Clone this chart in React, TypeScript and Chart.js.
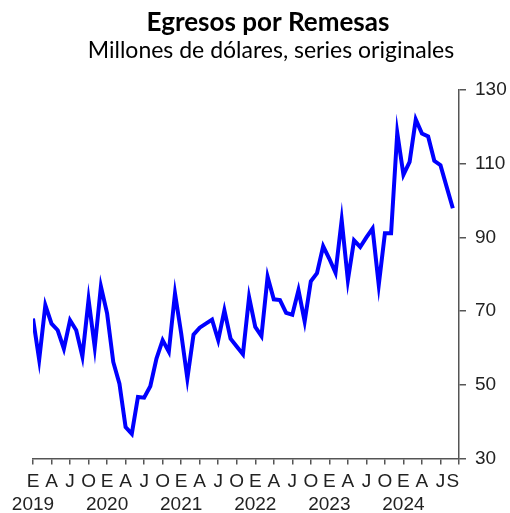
import React, { useEffect, useRef } from 'react';
import { Chart, registerables } from 'chart.js';

Chart.register(...registerables);

const TITLE = 'Egresos por Remesas';
const SUBTITLE = 'Millones de dólares, series originales';

// Monthly values, Jan 2019 .. Sep 2024 (millions of dollars)
const remesas = [
  68.0, 56.8, 71.6, 66.6, 64.8, 59.8, 67.5, 64.8, 57.7, 73.1, 60.2, 76.7,
  69.4, 56.2, 50.3, 38.5, 36.7, 46.7, 46.5, 49.6, 57.1, 62.1, 59.0, 74.8,
  64.0, 51.7, 63.6, 65.5, 66.6, 67.7, 62.1, 70.2, 62.5, 60.4, 58.3, 73.8,
  65.7, 63.2, 79.3, 73.2, 73.0, 69.5, 69.0, 75.7, 67.2, 78.1, 80.3, 87.6,
  84.2, 80.4, 94.7, 78.4, 89.2, 87.4, 90.0, 92.4, 77.1, 91.1, 91.1, 118.4,
  107.0, 110.5, 122.0, 118.2, 117.4, 110.8, 109.6, 103.7, 97.9,
];

// x tick positions (month index) and their labels
const xTickIdx = [0, 3, 6, 9, 12, 15, 18, 21, 24, 27, 30, 33, 36, 39, 42, 45, 48, 51, 54, 57, 60, 63, 66, 68, 69];
const xTickText = ['E', 'A', 'J', 'O', 'E', 'A', 'J', 'O', 'E', 'A', 'J', 'O', 'E', 'A', 'J', 'O', 'E', 'A', 'J', 'O', 'E', 'A', 'J', 'S', ''];
const yearIdx = [0, 12, 24, 36, 48, 60];
const yearText = ['2019', '2020', '2021', '2022', '2023', '2024'];
const noMarkIdx = [68];

const AXIS = '#555555';
const TICKFONT = { family: 'Liberation Sans, Arial, sans-serif', size: 19 };

const titlePlugin = {
  id: 'titles',
  afterDraw(chart: any) {
    const ctx = chart.ctx;
    ctx.save();
    ctx.fillStyle = '#000000';
    ctx.textAlign = 'center';
    ctx.textBaseline = 'alphabetic';
    ctx.font = 'bold 26px Lato, sans-serif';
    ctx.fillText(TITLE, 268, 31);
    ctx.font = '23px Lato, sans-serif';
    ctx.fillText(SUBTITLE, 271, 58);
    ctx.restore();
  },
};

export default function App() {
  const ref = useRef<HTMLCanvasElement | null>(null);

  useEffect(() => {
    if (!ref.current) return;
    const chart = new Chart(ref.current, {
      type: 'line',
      data: {
        datasets: [
          {
            data: remesas.map((v, i) => ({ x: i, y: v })),
            borderColor: '#0000FF',
            borderWidth: 4,
            pointRadius: 0,
            tension: 0,
            fill: false,
          },
        ],
      },
      options: {
        animation: false,
        responsive: false,
        maintainAspectRatio: false,
        layout: { padding: { left: 33, top: 90, right: 0, bottom: 0 } },
        plugins: {
          legend: { display: false },
          tooltip: { enabled: false },
          title: { display: false },
        },
        scales: {
          x: {
            type: 'linear',
            position: 'bottom',
            min: 0,
            max: 69,
            afterBuildTicks: (scale: any) => {
              scale.ticks = xTickIdx.map((v) => ({ value: v }));
            },
            afterFit: (scale: any) => {
              scale.height = 54.5;
            },
            ticks: {
              autoSkip: false,
              maxRotation: 0,
              minRotation: 0,
              padding: 6,
              color: '#222222',
              font: TICKFONT,
              callback: (value: any) => {
                const k = xTickIdx.indexOf(Number(value));
                const letter = k >= 0 ? xTickText[k] : '';
                const y = yearIdx.indexOf(Number(value));
                return y >= 0 ? [letter, yearText[y]] : letter;
              },
            },
            grid: {
              display: true,
              drawOnChartArea: false,
              drawTicks: true,
              tickLength: 6,
              lineWidth: 1.5,
              color: (c: any) => (c.tick && noMarkIdx.includes(c.tick.value) ? 'rgba(0,0,0,0)' : AXIS),
            },
            border: { display: true, color: AXIS, width: 1.5 },
          },
          y: {
            type: 'linear',
            position: 'right',
            min: 30,
            max: 130,
            afterFit: (scale: any) => {
              scale.width = 51;
            },
            ticks: {
              stepSize: 20,
              padding: 9,
              color: '#222222',
              font: TICKFONT,
            },
            grid: {
              display: true,
              drawOnChartArea: false,
              drawTicks: true,
              tickLength: 7,
              lineWidth: 1.5,
              color: AXIS,
            },
            border: { display: true, color: AXIS, width: 1.5 },
          },
        },
      },
      plugins: [titlePlugin],
    } as any);
    return () => chart.destroy();
  }, []);

  return (
    <div style={{ position: 'fixed', left: 0, top: 0, width: 510, height: 513, background: '#ffffff' }}>
      <canvas ref={ref} width={510} height={513} style={{ width: 510, height: 513, display: 'block' }} />
    </div>
  );
}
